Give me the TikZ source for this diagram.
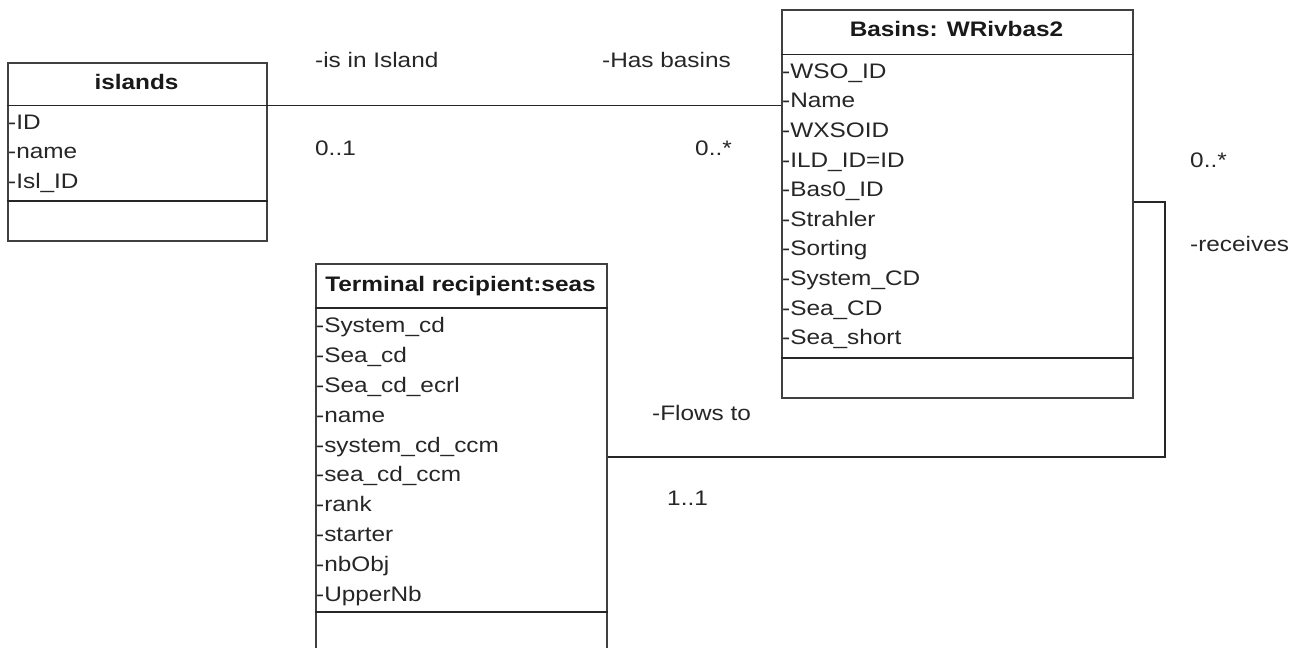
\documentclass[tikz,border=0pt]{standalone}
\usepackage{fontspec}
\setmainfont{Liberation Sans}[FakeStretch=1.16]
\begin{document}
\begin{tikzpicture}[x=1pt,y=-1pt,
  classbox/.style={draw=black!75, line width=1.6pt, fill=white, inner sep=0pt, anchor=north west},
  attr/.style={anchor=base west, inner sep=0pt, font=\fontsize{21}{24}\selectfont, text=black!85},
  ctitle/.style={anchor=base, inner sep=0pt, font=\fontsize{21}{24}\selectfont\bfseries, text=black!90},
  sep/.style={line width=1.6pt, draw=black!85},
  conn/.style={line width=1.4pt, draw=black!85}]
\clip (0,0) rectangle (1302,648);
\fill[white] (0,0) rectangle (1302,648);
% boxes
\node[classbox, minimum width=259pt, minimum height=178pt] (islands) at (7,62) {};
\node[classbox, minimum width=351pt, minimum height=388pt] (basins) at (781,9) {};
\node[classbox, minimum width=291pt, minimum height=400pt] (terminal) at (315,263) {};
% titles
\node[ctitle] (islT) at (136.5,89.3) {islands};
\node[ctitle] (basT) at (956.5,36) {Basins: WRivbas2};
\node[ctitle] (terT) at (460.5,291.7) {Terminal recipient:seas};
% separators
\draw[sep] (islands.west |- 0,105.5) -- (islands.east |- 0,105.5);
\draw[sep] (islands.west |- 0,201) -- (islands.east |- 0,201);
\draw[sep] (basins.west |- 0,54.5) -- (basins.east |- 0,54.5);
\draw[sep] (basins.west |- 0,358) -- (basins.east |- 0,358);
\draw[sep] (terminal.west |- 0,308) -- (terminal.east |- 0,308);
\draw[sep] (terminal.west |- 0,612) -- (terminal.east |- 0,612);
% attributes
\foreach \t [count=\i from 0] in {-ID,-name,-Isl\_ID}
  \node[attr] (ia\i) at (8,129.3+29.5*\i) {\t};
\foreach \t [count=\i from 0] in {-WSO\_ID,-Name,-WXSOID,-ILD\_ID=ID,-Bas0\_ID,-Strahler,-Sorting,-System\_CD,-Sea\_CD,-Sea\_short}
  \node[attr] (ba\i) at (782,78.3+29.6*\i) {\t};
\foreach \t [count=\i from 0] in {-System\_cd,-Sea\_cd,-Sea\_cd\_ecrl,-name,-system\_cd\_ccm,-sea\_cd\_ccm,-rank,-starter,-nbObj,-UpperNb}
  \node[attr] (ta\i) at (316,332.3+29.93*\i) {\t};
% connectors
\coordinate (b1) at (1165,202);
\coordinate (b2) at (1165,457);
\draw[conn] (islands.east |- 0,105.7) -- (basins.west |- 0,105.7);
\draw[conn] (basins.east |- b1) -- (b1) -- (b2) -- (terminal.east |- b2);
% labels
\node[attr] (l1) at (315,67.3) {-is in Island};
\node[attr] (l2) at (602,67.3) {-Has basins};
\node[attr] (l3) at (315,155) {0..1};
\node[attr] (l4) at (695,155) {0..*};
\node[attr] (l5) at (1190,167) {0..*};
\node[attr] (l6) at (1190,251.7) {-receives};
\node[attr] (l7) at (652,420) {-Flows to};
\node[attr] (l8) at (667,505) {1..1};
\end{tikzpicture}
\end{document}
